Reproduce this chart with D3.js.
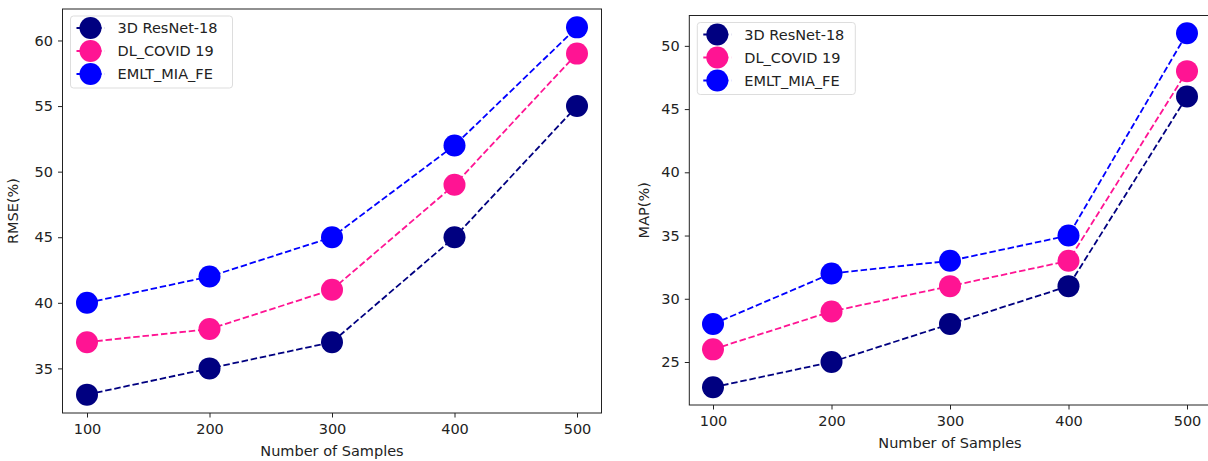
<!DOCTYPE html>
<html>
<head>
<meta charset="utf-8">
<script src="https://cdn.jsdelivr.net/npm/d3@7"></script>
<style>
  body { margin: 0; background: #fff; }
  text { font-family: "DejaVu Sans", sans-serif; fill: #222; }
</style>
</head>
<body>
<svg id="chart" width="1208" height="461"></svg>
<script>
let samples = [100, 200, 300, 400, 500];
let seriesNames = ['3D ResNet-18', 'DL_COVID 19', 'EMLT_MIA_FE'];
let seriesColors = ['#000080', '#ff1493', '#0000ff'];

// left panel: RMSE
let rmseResNet = [33, 35, 37, 45, 55];
let rmseCovid = [37, 38, 41, 49, 59];
let rmseEmlt = [40, 42, 45, 52, 61];
let rmseTicks = [35, 40, 45, 50, 55, 60];

// right panel: MAP
let mapResNet = [23, 25, 28, 31, 46];
let mapCovid = [26, 29, 31, 33, 48];
let mapEmlt = [28, 32, 33, 35, 51];
let mapTicks = [25, 30, 35, 40, 45, 50];

let fs = '14.5px';
let svg = d3.select('#chart');

function panel(opts) {
  let g = svg.append('g');
  let x = d3.scaleLinear().domain([80, 520]).range([opts.left, opts.right]);
  let y = d3.scaleLinear().domain(opts.ydom).range([opts.bottom, opts.top]);

  let xAxis = g.append('g')
     .attr('transform', `translate(0,${opts.bottom})`)
     .call(d3.axisBottom(x).tickValues(samples).tickSize(4.5).tickPadding(6));
  let yAxis = g.append('g')
     .attr('transform', `translate(${opts.left},0)`)
     .call(d3.axisLeft(y).tickValues(opts.ticks).tickSize(4.5).tickPadding(5));
  [xAxis, yAxis].forEach(a => {
    a.select('.domain').remove();
    a.selectAll('text').style('font-size', fs).attr('fill', '#222');
    a.selectAll('line').attr('stroke', '#222');
  });

  g.append('rect')
   .attr('x', opts.left).attr('y', opts.top)
   .attr('width', opts.right - opts.left).attr('height', opts.bottom - opts.top)
   .attr('fill', 'none').attr('stroke', '#222').attr('stroke-width', 1);

  g.append('text')
   .attr('x', (opts.left + opts.right) / 2)
   .attr('y', opts.bottom + 43)
   .attr('text-anchor', 'middle')
   .style('font-size', fs)
   .text('Number of Samples');

  g.append('text')
   .attr('transform', `translate(${opts.ylabelX},${(opts.top + opts.bottom) / 2}) rotate(-90)`)
   .attr('text-anchor', 'middle')
   .style('font-size', fs)
   .text(opts.ylabel);

  let line = d3.line().x((d, i) => x(samples[i])).y(d => y(d));

  opts.series.forEach((vals, k) => {
    g.append('path')
     .datum(vals)
     .attr('d', line)
     .attr('fill', 'none')
     .attr('stroke', seriesColors[k])
     .attr('stroke-width', 1.8)
     .attr('stroke-dasharray', '6.5,2.8');
    g.selectAll(null)
     .data(vals)
     .enter()
     .append('circle')
     .attr('cx', (d, i) => x(samples[i]))
     .attr('cy', d => y(d))
     .attr('r', 11)
     .attr('fill', seriesColors[k]);
  });

  // legend
  let lg = g.append('g').attr('transform', `translate(${opts.left + 8},${opts.top + 7})`);
  lg.append('rect')
    .attr('width', opts.legendW).attr('height', 72)
    .attr('rx', 3)
    .attr('fill', '#fff').attr('fill-opacity', 0.8)
    .attr('stroke', '#ddd');
  seriesNames.forEach((name, k) => {
    let ly = 12 + k * 23;
    lg.append('line')
      .attr('x1', 6).attr('x2', 34).attr('y1', ly).attr('y2', ly)
      .attr('stroke', seriesColors[k]).attr('stroke-width', 1.8)
      .attr('stroke-dasharray', '6.5,2.8');
    lg.append('circle')
      .attr('cx', 20).attr('cy', ly).attr('r', 11)
      .attr('fill', seriesColors[k]);
    lg.append('text')
      .attr('x', 47).attr('y', ly)
      .attr('dy', '0.35em')
      .style('font-size', fs)
      .text(name);
  });
}

panel({
  left: 62.5, right: 601.5, top: 9, bottom: 413,
  ydom: [31.6, 62.4], ticks: rmseTicks,
  series: [rmseResNet, rmseCovid, rmseEmlt],
  ylabel: 'RMSE(%)', ylabelX: 18, legendW: 162
});

panel({
  left: 689.3, right: 1210.7, top: 15.5, bottom: 405,
  ydom: [21.6, 52.4], ticks: mapTicks,
  series: [mapResNet, mapCovid, mapEmlt],
  ylabel: 'MAP(%)', ylabelX: 649, legendW: 158
});
</script>
</body>
</html>
